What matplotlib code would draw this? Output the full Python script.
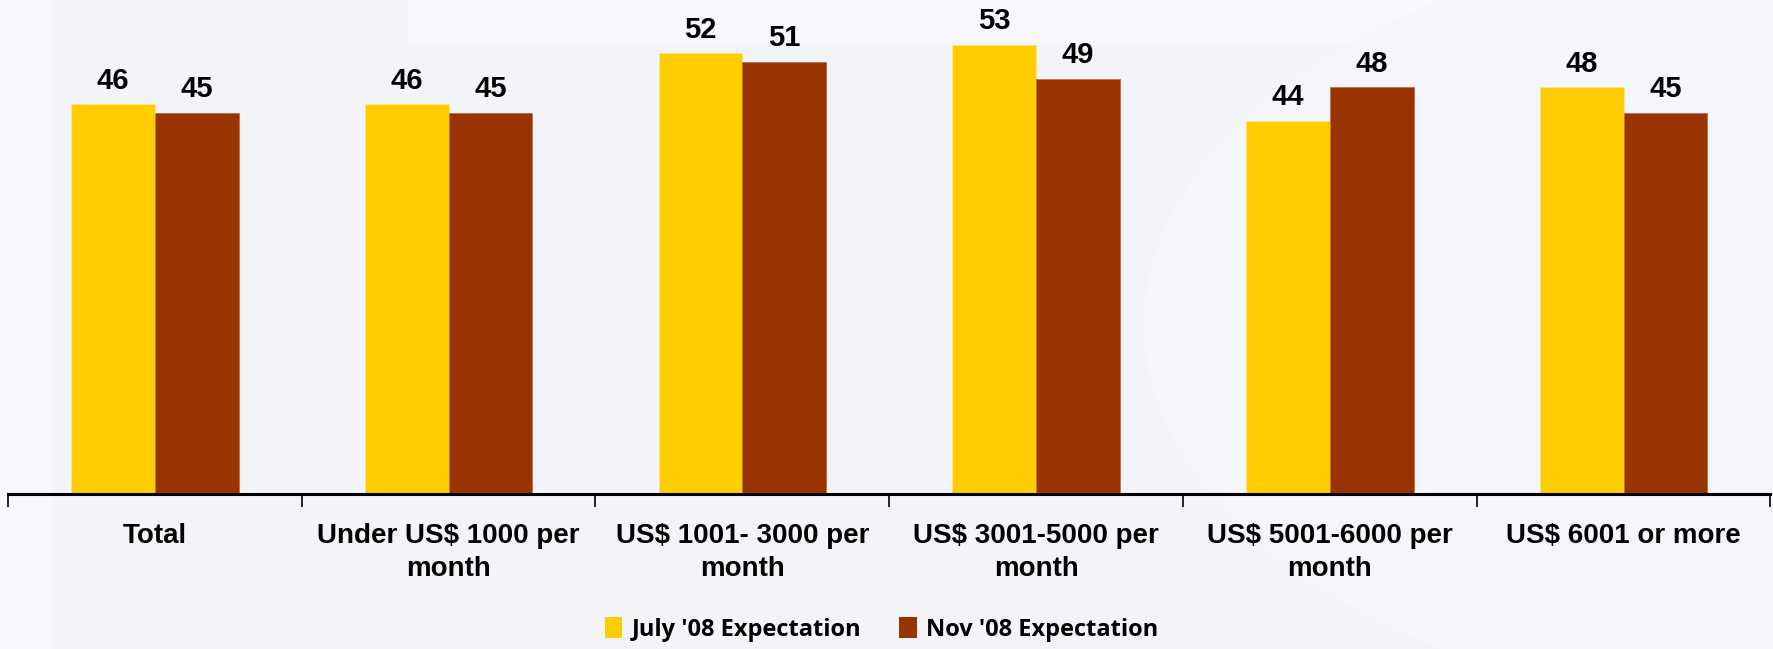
import matplotlib.pyplot as plt
import numpy as np
from matplotlib.patches import Patch, Ellipse, Rectangle

categories = ['Total', 'Under US$ 1000 per\nmonth', 'US$ 1001- 3000 per\nmonth',
              'US$ 3001-5000 per\nmonth', 'US$ 5001-6000 per\nmonth', 'US$ 6001 or more']
july_08 = [46, 46, 52, 53, 44, 48]
nov_08 = [45, 45, 51, 49, 48, 45]
series_names = ["July '08 Expectation", "Nov '08 Expectation"]

yellow = '#FFCC00'
brown = '#993300'

fig = plt.figure(figsize=(17.74, 6.49), dpi=100)
fig.patch.set_facecolor('#F2F4F8')

# faint watermark shapes in the background
bg = fig.add_axes([0, 0, 1, 1], zorder=-1)
bg.set_xlim(0, 1)
bg.set_ylim(0, 1)
bg.axis('off')
bg.add_patch(Rectangle((0.0, 0.0), 0.03, 1.0, color='#F6F7FB', lw=0))
bg.add_patch(Rectangle((0.23, 0.93), 0.77, 0.07, color='#F7F8FB', lw=0))
bg.add_patch(Ellipse((1.02, 0.5), 0.75, 1.2, color='#F5F6FA', lw=0))

ax = fig.add_axes([0.0045, 0.2388, 0.9935, 0.7612])
ax.set_facecolor('none')

x = np.arange(len(categories))
w = 0.285
b1 = ax.bar(x - w / 2, july_08, w, color=yellow, edgecolor='#FFE680', linewidth=0.6, label=series_names[0])
b2 = ax.bar(x + w / 2, nov_08, w, color=brown, edgecolor='#C07050', linewidth=0.6, label=series_names[1])

for bars, vals in ((b1, july_08), (b2, nov_08)):
    for rect, v in zip(bars, vals):
        ax.annotate(f'{v}', xy=(rect.get_x() + rect.get_width() / 2, v),
                    xytext=(0, 7), textcoords='offset points',
                    ha='center', va='bottom', fontsize=21, fontweight='bold',
                    family='Liberation Sans')

ax.set_xlim(-0.5, len(categories) - 0.5)
ax.set_ylim(0, 58.3)

for side in ('top', 'right', 'left'):
    ax.spines[side].set_visible(False)
ax.spines['bottom'].set_linewidth(2.2)
ax.spines['bottom'].set_color('black')
ax.set_yticks([])

ax.set_xticks(x)
ax.set_xticklabels(categories, fontsize=20, fontweight='bold', family='Liberation Sans',
                   linespacing=1.35)
ax.set_xticks(np.arange(-0.5, len(categories)), minor=True)
ax.tick_params(axis='x', which='major', length=0, pad=21)
ax.tick_params(axis='x', which='minor', length=9, width=1.2, direction='out', color='black')

handles = [Patch(facecolor=yellow, label=series_names[0]),
           Patch(facecolor=brown, label=series_names[1])]
fig.legend(handles=handles, loc='center', bbox_to_anchor=(0.497, 0.03), ncol=2,
           frameon=False, prop={'family': 'Open Sans', 'weight': 'bold', 'size': 17},
           handlelength=0.75, handleheight=0.95, handletextpad=0.4, columnspacing=1.6)

fig.savefig('out.png', dpi=100, facecolor=fig.get_facecolor())
